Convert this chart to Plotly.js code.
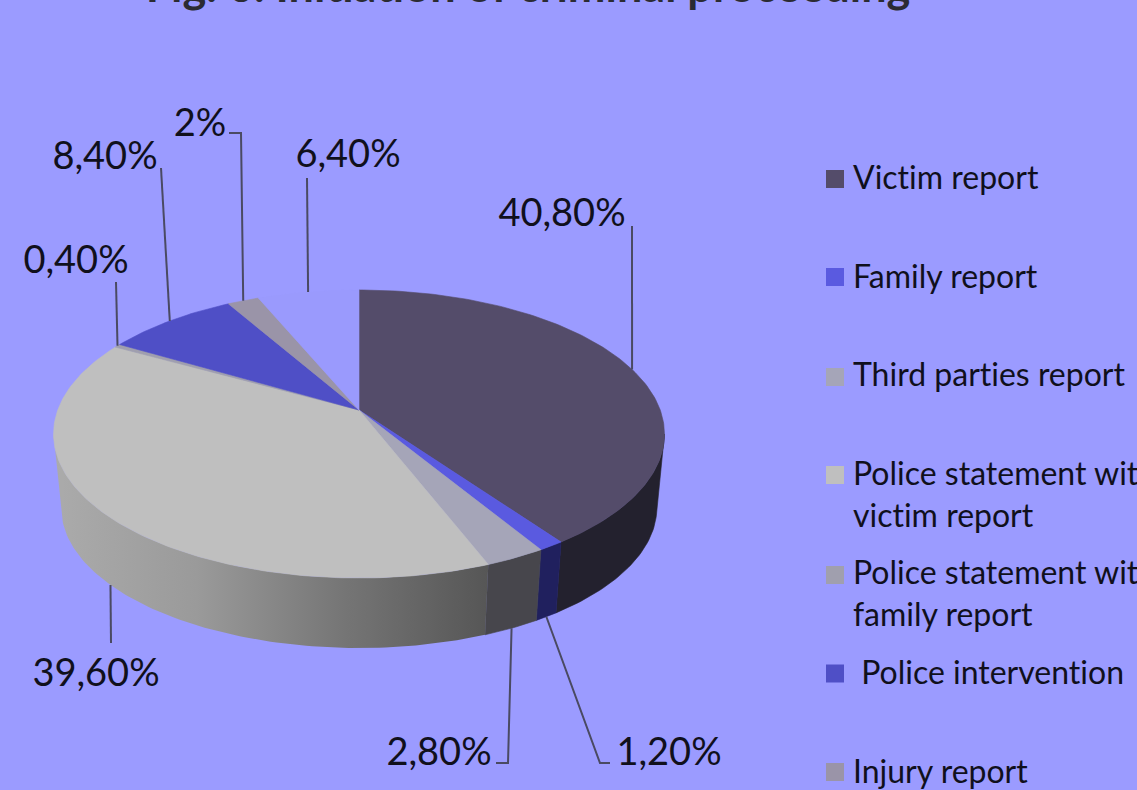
<!DOCTYPE html>
<html>
<head>
<meta charset="utf-8">
<script src="https://cdn.plot.ly/plotly-3.0.1.min.js"></script>
<style>html,body{margin:0;padding:0;overflow:hidden;background:#9b9bff}
svg text{font-variant-ligatures:none;font-feature-settings:"liga" 0,"clig" 0}</style>
</head>
<body>
<div id="chart" style="width:1137px;height:790px"></div>
<script>
// ---- data ----
const shares = [40.8, 1.2, 2.8, 39.6, 0.4, 8.4, 2, 6.4];
const valueLabels = ['40,80%', '1,20%', '2,80%', '39,60%', '0,40%', '8,40%', '2%', '6,40%'];
const legendLabels = ['Victim report', 'Family report', 'Third parties report',
  'Police statement with<br>victim report', 'Police statement with<br>family report',
  ' Police intervention', 'Injury report'];
const topColors = ['#544c6a', '#5a5ae0', '#a5a5b8', '#bfbfbf', '#a09fae', '#4f4fc6', '#9a94a8', '#9a9afd'];
const sideColors = ['#23212e', '#20205e', '#47464c', null, null, null, null, null];
const chartTitle = 'Fig. 6. Initiation of criminal proceeding';

// ---- layout constants (pixel-mapped axes) ----
const W = 1137, H = 790, BG = '#9b9bff', INK = '#10101c', LEADER = '#4a4a62';
const labelFont = {family: 'Lato, sans-serif', size: 38, color: INK};
const legendFont = {family: 'Lato, sans-serif', size: 32, color: INK};
const labelPos = [[562,216],[669,755],[439,755],[96,676],[76,263],[105,159],[200,126],[348,157]];
// each leader: rim level (0 top, 1 bottom) then the extra points toward its label
const leaderPath = [
  [0, [[632,226]]],
  [1, [[600,763],[610,763]]],
  [1, [[508,763],[496,763]]],
  [1, [[111,643]]],
  [0, [[116,282]]],
  [0, [[161,168]]],
  [0, [[241,133],[229,133]]],
  [0, [[307,178]]]
];
const legendSwatchY = [179, 277, 377, 475, 575, 673.5, 772];
const legendTextX = [853, 853, 853, 853, 853, 853, 853];
const legendTextShift = [2, 3, 1, 23, 22, 2, 3];

// ---- perspective disc projection ----
const total = shares.reduce((a, b) => a + b, 0);
function project(deg, level) {
  const r = deg * Math.PI / 180, s = Math.sin(r), t = -Math.cos(r);
  const d = 1 - t / 6;
  let x = 359 + 301.2 * s / d, y = (410 + 71.67 * t) / d;
  if (level) { x = 359 + (x - 359) * 0.975; y = 434 + (y - 434) * 0.975 + 73.6; }
  return [x, y];
}
function arc(a, b, level) {
  const pts = [], n = Math.max(2, Math.ceil(Math.abs(b - a)));
  for (let i = 0; i <= n; i++) pts.push(project(a + (b - a) * i / n, level));
  return pts;
}
const bounds = [0];
shares.forEach(v => bounds.push(bounds[bounds.length - 1] + v / total * 360));

const traces = [];
function poly(pts, color, extra) {
  traces.push(Object.assign({
    type: 'scatter', mode: 'lines', x: pts.map(p => p[0]), y: pts.map(p => p[1]),
    fill: 'toself', fillcolor: color, line: {color: color, width: 0.6}, hoverinfo: 'skip'
  }, extra || {}));
}
// outer walls, front half only
shares.forEach((v, i) => {
  const a = Math.max(bounds[i], 99.6), b = Math.min(bounds[i + 1], 260.4);
  if (b <= a) return;
  const pts = arc(a, b, 0).concat(arc(b, a, 1));
  pts.push(pts[0]);
  if (i === 3) {
    poly(pts, '#7a7a7a', {
      line: {width: 0},
      fillgradient: {type: 'horizontal', colorscale: [
        [0, '#ababab'], [0.33, '#9a9a9a'], [0.66, '#767676'], [1, '#565656']]}
    });
  } else if (sideColors[i]) {
    poly(pts, sideColors[i]);
  }
});
// top faces
shares.forEach((v, i) => {
  const apex = [359, 410];
  poly([apex].concat(arc(bounds[i], bounds[i + 1], 0)).concat([apex]), topColors[i]);
});
// leader lines
shares.forEach((v, i) => {
  const [level, rest] = leaderPath[i];
  const start = project((bounds[i] + bounds[i + 1]) / 2, level);
  const pts = [start].concat(rest);
  traces.push({type: 'scatter', mode: 'lines', x: pts.map(p => p[0]), y: pts.map(p => p[1]),
    line: {color: LEADER, width: 2}, hoverinfo: 'skip'});
});
// value labels
traces.push({type: 'scatter', mode: 'text', x: labelPos.map(p => p[0]), y: labelPos.map(p => p[1]),
  text: valueLabels, textposition: 'middle center', textfont: labelFont, hoverinfo: 'skip', cliponaxis: false});
// legend
traces.push({type: 'scatter', mode: 'markers', x: legendSwatchY.map(() => 835), y: legendSwatchY,
  marker: {symbol: 'square', size: 18, color: topColors.slice(0, 7), line: {width: 0}}, hoverinfo: 'skip'});
traces.push({type: 'scatter', mode: 'text', x: legendTextX, y: legendSwatchY.map((y, i) => y + legendTextShift[i]),
  text: legendLabels.map(s => s.replace(/^ /, '\u00a0')), textposition: 'middle right', textfont: legendFont, hoverinfo: 'skip', cliponaxis: true});

Plotly.newPlot('chart', traces, {
  width: W, height: H, showlegend: false, hovermode: false,
  paper_bgcolor: BG, plot_bgcolor: BG,
  margin: {l: 0, r: 0, t: 0, b: 0, pad: 0},
  title: {text: chartTitle, x: 528 / W, xanchor: 'center', yref: 'container', y: 0.9975, yanchor: 'bottom',
    font: {family: 'Lato, sans-serif', size: 45, color: '#2b2b33', weight: 700}},
  xaxis: {range: [0, W], visible: false, fixedrange: true},
  yaxis: {range: [H, 0], visible: false, fixedrange: true}
}, {displayModeBar: false, staticPlot: true});
</script>
</body>
</html>
